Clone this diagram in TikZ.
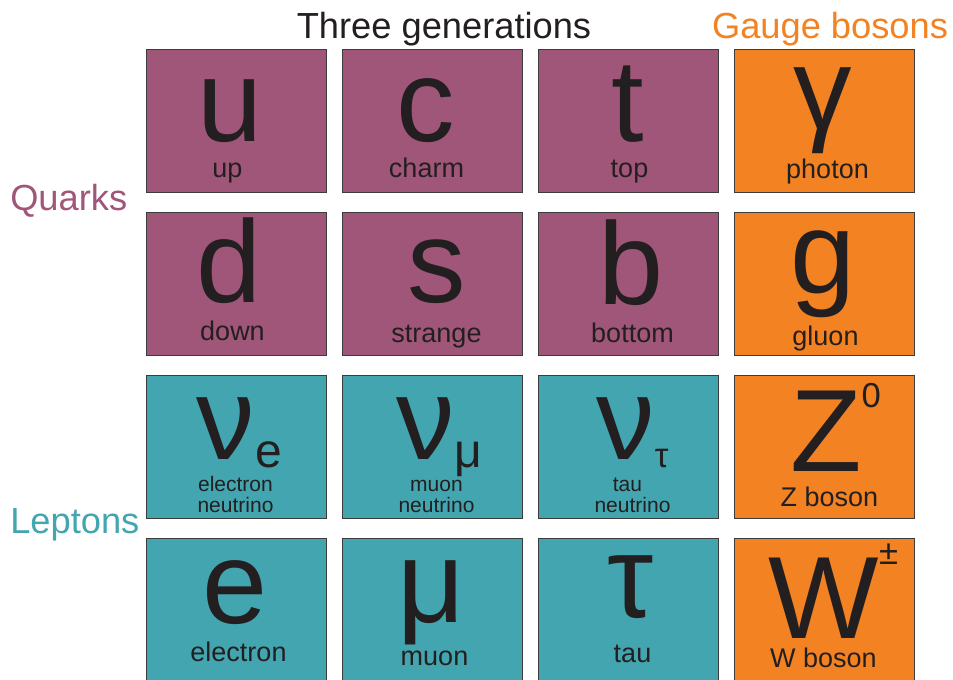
\documentclass[tikz,border=0pt]{standalone}
\usepackage{fontspec}
\setmainfont{Liberation Sans}
\usepackage{xcolor}
\usepackage{tikz}
\usetikzlibrary{positioning,calc}
\definecolor{smQuark}{HTML}{A05678}
\definecolor{smLepton}{HTML}{43A5AF}
\definecolor{smBoson}{HTML}{F38223}
\definecolor{smInk}{HTML}{231F20}
\definecolor{smLine}{HTML}{3C3C3C}
\newcommand{\bigsym}{\fontsize{87.75}{90}\selectfont}
\newcommand{\namesize}{\fontsize{20.25}{22}\selectfont}
\newcommand{\smallname}{\fontsize{15.75}{16}\selectfont}
\newcommand{\headsize}{\fontsize{27.2}{30}\selectfont}
\newcommand{\subsize}{\fontsize{36}{36}\selectfont}
\newcommand{\supsize}{\fontsize{26}{26}\selectfont}

\begin{document}
\begin{tikzpicture}[
        x=0.75pt, y=0.75pt,
        node distance=14.25pt and 11.25pt,
        cell/.style={draw=smLine, line width=0.75pt, minimum width=135pt, minimum height=107.25pt, inner sep=0pt},
        quark/.style={cell, fill=smQuark},
        lepton/.style={cell, fill=smLepton},
        boson/.style={cell, fill=smBoson},
        sym/.style={anchor=base, inner sep=0pt, text=smInk, font=\bigsym},
        pname/.style={anchor=base, inner sep=0pt, text=smInk, font=\namesize},
        nuname/.style={anchor=base, inner sep=0pt, text=smInk, font=\smallname},
        head/.style={anchor=base, inner sep=0pt, font=\headsize}
    ]
        \useasboundingbox (0,0) rectangle (953,-679);
        \clip (0,0) rectangle (953,-679);

        % headings
        \node[head, text=smInk] (threegen) at (444,-38) {Three generations};
        \node[head, text=smBoson] (gauge) at (830,-38) {Gauge bosons};
        \node[head, text=smQuark, anchor=base west] (quarks) at (10,-210) {Quarks};
        \node[head, text=smLepton, anchor=base west] (leptons) at (10,-533) {Leptons};

        % grid of cells
        \node[quark, anchor=north west] (upc) at (146,-49) {};
        \node[quark, right=of upc] (charmc) {};
        \node[quark, right=of charmc] (topc) {};
        \node[boson, right=of topc] (photonc) {};
        \node[quark, below=of upc] (downc) {};
        \node[quark, right=of downc] (strangec) {};
        \node[quark, right=of strangec] (bottomc) {};
        \node[boson, right=of bottomc] (gluonc) {};
        \node[lepton, below=of downc] (nuec) {};
        \node[lepton, right=of nuec] (numuc) {};
        \node[lepton, right=of numuc] (nutauc) {};
        \node[boson, right=of nutauc] (zc) {};
        \node[lepton, below=of nuec] (electronc) {};
        \node[lepton, right=of electronc] (muonc) {};
        \node[lepton, right=of muonc] (tauc) {};
        \node[boson, right=of tauc] (wc) {};

        % quarks
        \node[sym] (usym) at ($(upc.north)+(-6,-92)$) {u};
        \node[pname] (uname) at ($(upc.north)+(-9,-128)$) {up};
        \node[sym] (csym) at ($(charmc.north)+(-7,-92)$) {c};
        \node[pname] (cname) at ($(charmc.north)+(-6,-128)$) {charm};
        \node[sym] (tsym) at ($(topc.north)+(-1,-92)$) {t};
        \node[pname] (tname) at ($(topc.north)+(1,-128)$) {top};
        \node[sym] (dsym) at ($(downc.north)+(-7,-90)$) {d};
        \node[pname] (dname) at ($(downc.north)+(-4,-128)$) {down};
        \node[sym] (ssym) at ($(strangec.north)+(4,-90)$) {s};
        \node[pname] (sname) at ($(strangec.north)+(4,-130)$) {strange};
        \node[sym] (bsym) at ($(bottomc.north)+(3,-92)$) {b};
        \node[pname] (bname) at ($(bottomc.north)+(4,-130)$) {bottom};

        % gauge bosons
        \node[sym] (gammasym) at ($(photonc.north)+(-2,-80)$) {γ};
        \node[pname] (gammaname) at ($(photonc.north)+(3,-129)$) {photon};
        \node[sym] (gsym) at ($(gluonc.north)+(-1,-81)$) {g};
        \node[pname] (gname) at ($(gluonc.north)+(1,-133)$) {gluon};
        \node[sym] (zsym) at ($(zc.north)+(11,-96)$) {Z\raisebox{48pt}{\supsize 0}};
        \node[pname] (zname) at ($(zc.north)+(5,-131)$) {Z boson};
        \node[sym] (wsym) at ($(wc.north)+(9,-100)$) {W\raisebox{55pt}{\supsize ±}};
        \node[pname] (wname) at ($(wc.north)+(-1,-129)$) {W boson};

        % leptons
        \node[sym] (nuesym) at ($(nuec.north)+(3,-84)$) {ν\raisebox{-6pt}{\subsize e}};
        \node[nuname] (nuename) at ($(nuec.north)+(-1,-116)$) {electron};
        \node[nuname] (nuename2) at ($(nuec.north)+(-1,-137)$) {neutrino};
        \node[sym] (numusym) at ($(numuc.north)+(7,-84)$) {ν\raisebox{-6pt}{\subsize μ}};
        \node[nuname] (numuname) at ($(numuc.north)+(4,-116)$) {muon};
        \node[nuname] (numuname2) at ($(numuc.north)+(4,-137)$) {neutrino};
        \node[sym] (nutausym) at ($(nutauc.north)+(4,-84)$) {ν\raisebox{-6pt}{\supsize τ}};
        \node[nuname] (nutauname) at ($(nutauc.north)+(-1,-116)$) {tau};
        \node[nuname] (nutauname2) at ($(nutauc.north)+(4,-137)$) {neutrino};
        \node[sym] (esym) at ($(electronc.north)+(-1,-85)$) {e};
        \node[pname] (ename) at ($(electronc.north)+(2,-123)$) {electron};
        \node[sym] (musym) at ($(muonc.north)+(-1,-84)$) {μ};
        \node[pname] (muname) at ($(muonc.north)+(2,-127)$) {muon};
        \node[sym] (tausym) at ($(tauc.north)+(2,-79)$) {τ};
        \node[pname] (tauname) at ($(tauc.north)+(4,-124)$) {tau};
    \end{tikzpicture}
\end{document}
